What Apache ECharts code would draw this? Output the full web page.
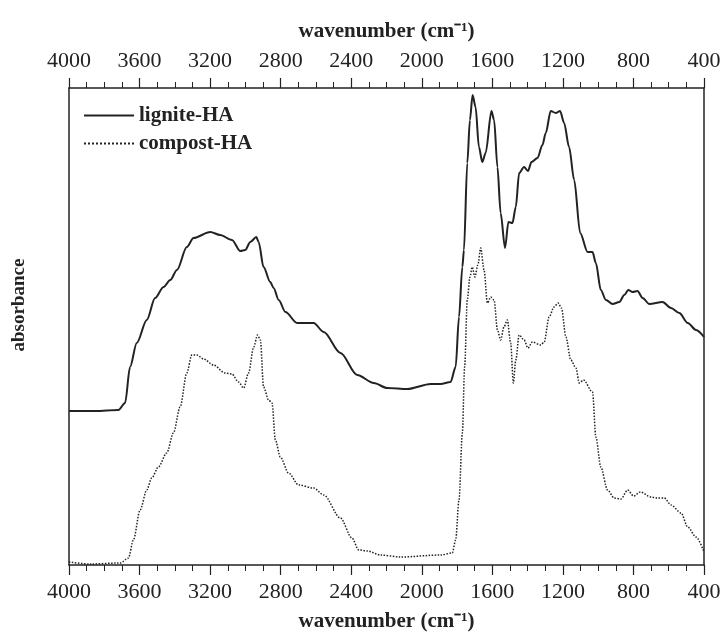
<!DOCTYPE html>
<html lang="en">
<head>
<meta charset="UTF-8">
<title>FTIR spectra</title>
<script src="https://cdn.jsdelivr.net/npm/echarts@6/dist/echarts.min.js"></script>
<style>
  html, body { margin: 0; padding: 0; background: #fff; }
  #main { width: 721px; height: 636px; }
</style>
</head>
<body>
<div id="main"></div>
<script>
// wavenumber (cm-1) / absorbance (arb. units)
var ligniteWn = [4000,3850,3720,3682,3654,3616,3559,3512,3464,3426,3388,3332,3294,3199,3143,3076,3029,3001,2972,2938,2925,2897,2859,2840,2811,2773,2707,2613,2556,2461,2366,2272,2196,2082,1950,1893,1837,1808,1789,1770,1761,1742,1727,1712,1695,1676,1657,1638,1605,1590,1571,1553,1528,1509,1486,1467,1448,1420,1398,1378,1344,1316,1297,1269,1240,1216,1193,1165,1136,1102,1060,1032,1013,985,956,918,880,852,829,805,777,748,710,635,587,540,492,445,400];
var ligniteAbs = [1.54,1.54,1.55,1.62,1.98,2.22,2.45,2.67,2.78,2.85,2.95,3.18,3.27,3.33,3.30,3.25,3.14,3.15,3.23,3.28,3.23,2.98,2.83,2.77,2.65,2.53,2.42,2.42,2.33,2.12,1.90,1.82,1.77,1.76,1.81,1.81,1.83,1.98,2.48,2.98,3.15,4.02,4.45,4.70,4.58,4.18,4.03,4.12,4.54,4.45,3.98,3.52,3.17,3.43,3.42,3.58,3.92,3.98,3.94,4.03,4.07,4.20,4.32,4.54,4.52,4.54,4.42,4.18,3.85,3.32,3.13,3.13,3.02,2.75,2.65,2.61,2.63,2.70,2.75,2.73,2.74,2.67,2.61,2.63,2.57,2.52,2.42,2.35,2.28];

var compostWn = [4000,3880,3710,3663,3635,3597,3559,3531,3493,3446,3408,3370,3332,3304,3275,3237,3181,3115,3076,3039,3010,2982,2953,2931,2915,2897,2868,2849,2830,2802,2755,2698,2613,2556,2461,2396,2357,2310,2234,2120,1893,1827,1808,1789,1770,1757,1742,1727,1714,1699,1682,1666,1647,1628,1609,1590,1571,1553,1534,1515,1496,1481,1467,1448,1420,1398,1373,1325,1306,1278,1250,1227,1208,1183,1155,1126,1107,1083,1032,1013,985,947,909,871,833,799,761,701,663,625,587,530,492,445,400];
var compostAbs = [0.03,0.01,0.02,0.07,0.25,0.55,0.75,0.87,0.98,1.12,1.32,1.58,1.92,2.10,2.10,2.06,2.00,1.92,1.91,1.83,1.77,1.92,2.18,2.30,2.25,1.78,1.65,1.62,1.25,1.08,0.92,0.80,0.77,0.70,0.47,0.27,0.15,0.14,0.10,0.08,0.10,0.12,0.25,0.65,1.32,1.98,2.65,2.88,2.98,2.88,3.00,3.17,2.95,2.62,2.68,2.65,2.35,2.25,2.38,2.45,2.22,1.82,2.05,2.30,2.25,2.17,2.23,2.20,2.23,2.48,2.58,2.62,2.57,2.28,2.05,1.97,1.82,1.85,1.73,1.28,0.98,0.75,0.67,0.66,0.75,0.69,0.73,0.68,0.67,0.67,0.60,0.52,0.38,0.28,0.13];

function pairs(xs, ys) {
  var out = [];
  for (var i = 0; i < xs.length; i++) out.push([xs[i], ys[i]]);
  return out;
}

var serif = 'Liberation Serif';
var ink = '#222';

var chart = echarts.init(document.getElementById('main'));

function xAxisOf(pos) {
  return {
    type: 'value',
    position: pos,
    inverse: true,
    min: 400,
    max: 4000,
    interval: 400,
    name: 'wavenumber (cm\u207B\u00B9)',
    nameLocation: 'middle',
    nameGap: 46,
    nameMoveOverlap: false,
    nameTextStyle: { fontFamily: serif, fontSize: 21, fontWeight: 'bold', color: ink },
    axisLine: { show: true, onZero: false, lineStyle: { color: ink, width: 1.5 } },
    axisTick: { show: true, inside: false, length: 10, lineStyle: { color: ink, width: 1.2 } },
    minorTick: { show: true, splitNumber: 4, length: 6, lineStyle: { color: ink, width: 1 } },
    axisLabel: {
      fontFamily: serif, fontSize: 22, color: ink, margin: 16,
      formatter: function (v) { return String(v); }
    },
    splitLine: { show: false }
  };
}

chart.setOption({
  animation: false,
  backgroundColor: '#fff',
  grid: { left: 69, right: 17, top: 88, bottom: 71, outerBoundsMode: 'none' },
  legend: {
    orient: 'vertical',
    left: 78,
    top: 100,
    itemWidth: 50,
    itemHeight: 10,
    itemGap: 7,
    itemStyle: { opacity: 0 },
    textStyle: { fontFamily: serif, fontSize: 21, fontWeight: 'bold', color: ink },
    data: ['lignite-HA', 'compost-HA']
  },
  graphic: [{
    type: 'text',
    x: 19,
    y: 305,
    rotation: Math.PI / 2,
    style: {
      text: 'absorbance',
      fontFamily: serif, fontSize: 19, fontWeight: 'bold', fill: ink,
      align: 'center', verticalAlign: 'middle'
    }
  }],
  xAxis: [xAxisOf('bottom'), xAxisOf('top')],
  yAxis: [{
    type: 'value',
    min: 0,
    max: 4.77,
    position: 'left',
    axisLine: { show: true, lineStyle: { color: ink, width: 1.5 } },
    axisTick: { show: false },
    axisLabel: { show: false },
    splitLine: { show: false }
  }, {
    type: 'value',
    min: 0,
    max: 4.77,
    position: 'right',
    axisLine: { show: true, lineStyle: { color: ink, width: 1.5 } },
    axisTick: { show: false },
    axisLabel: { show: false },
    splitLine: { show: false }
  }],
  series: [{
    name: 'lignite-HA',
    type: 'line',
    data: pairs(ligniteWn, ligniteAbs),
    showSymbol: false,
    symbol: 'none',
    smooth: 0.3,
    smoothMonotone: 'x',
    lineStyle: { color: ink, width: 2, type: 'solid' },
    itemStyle: { color: ink }
  }, {
    name: 'compost-HA',
    type: 'line',
    data: pairs(compostWn, compostAbs),
    showSymbol: false,
    symbol: 'none',
    smooth: 0.3,
    smoothMonotone: 'x',
    lineStyle: { color: ink, width: 1.5, type: 'dotted' },
    itemStyle: { color: ink }
  }]
});
</script>
</body>
</html>
